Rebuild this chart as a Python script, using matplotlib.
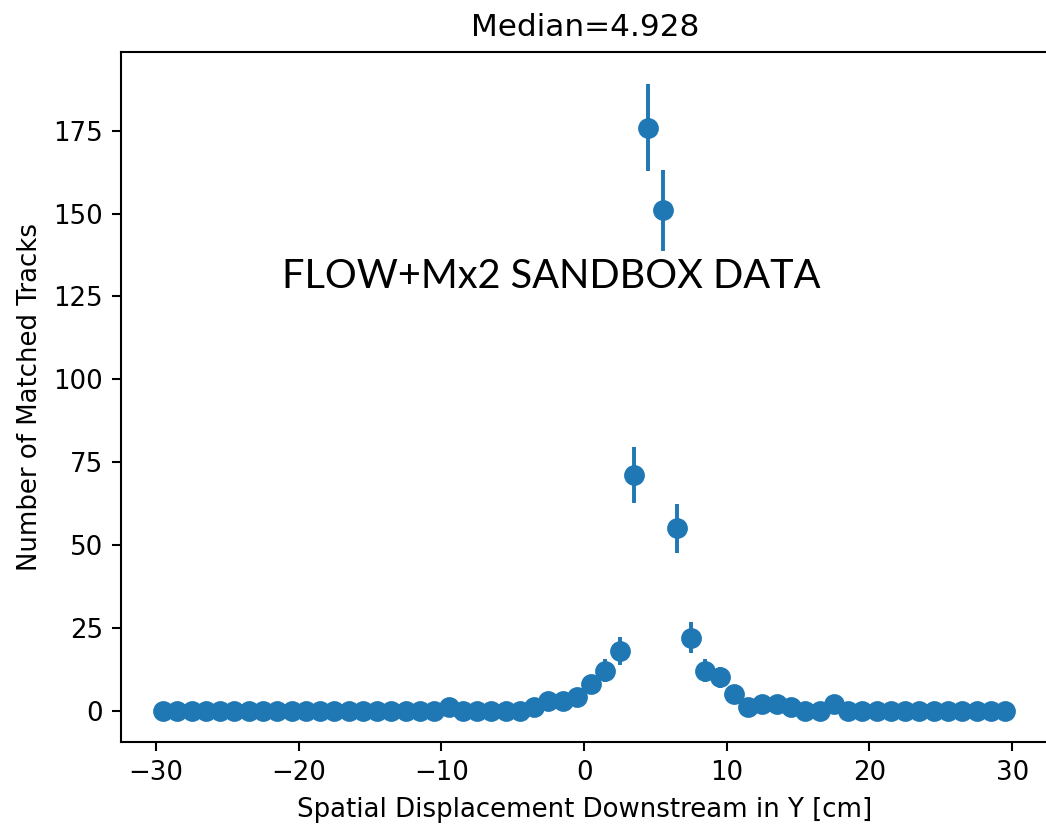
import numpy as np
import matplotlib
matplotlib.use("Agg")
import matplotlib.pyplot as plt

# Bin centers (cm) and counts
bin_centers = np.arange(-29.5, 30.0, 1.0)
counts = np.array(
    [0] * 20                      # -29.5 .. -10.5
    + [1]                         # -9.5
    + [0, 0, 0, 0, 0]             # -8.5 .. -4.5
    + [1, 3, 3, 4, 8, 12, 18]     # -3.5 .. 2.5
    + [71, 176, 151, 55, 22, 12]  # 3.5 .. 8.5
    + [10, 5, 1, 2, 2, 1, 0, 0, 2]  # 9.5 .. 17.5
    + [0] * 12                    # 18.5 .. 29.5
)
errors = np.sqrt(counts)

title_text = "Median=4.928"
xlabel_text = "Spatial Displacement Downstream in Y [cm]"
ylabel_text = "Number of Matched Tracks"
overlay_text = "FLOW+Mx2 SANDBOX DATA"

DPI = 187
fig = plt.figure(figsize=(1046 / DPI, 825 / DPI), dpi=DPI)
ax = fig.add_axes([121 / 1046, 83 / 825, 935 / 1046, 690 / 825])

ax.errorbar(bin_centers, counts, yerr=errors, fmt="o", color="#1f77b4",
            markersize=7, elinewidth=1.5)
ax.set_xlim(-32.45, 33.07)
ax.set_ylim(-9.47, 198.8)
ax.set_xticks([-30, -20, -10, 0, 10, 20, 30])
ax.set_yticks([0, 25, 50, 75, 100, 125, 150, 175])
ax.spines["right"].set_visible(False)
xc = (584.7 - 121) / 935
ax.set_title(title_text, x=xc)
ax.set_xlabel(xlabel_text, x=xc)
ax.set_ylabel(ylabel_text)

fig.text(551 / 1046, 1 - 276 / 825, overlay_text, family="Lato",
         fontsize=15.3, ha="center", va="center", color="black")

fig.savefig("out.png", dpi=DPI)
